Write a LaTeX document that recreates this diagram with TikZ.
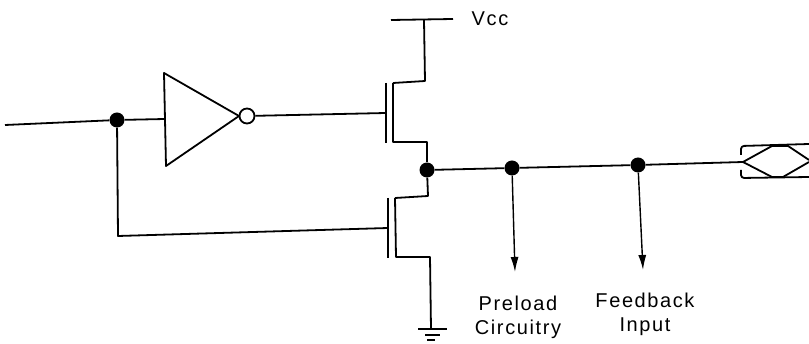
\documentclass[tikz,border=0pt]{standalone}
\usepackage{fontspec}
\setsansfont[LetterSpace=8]{Liberation Sans}
\usetikzlibrary{arrows.meta}
\tikzset{
  wire/.style={draw,line width=1.8pt,line join=round},
  dot/.style={circle,fill=black,inner sep=0pt,minimum size=15pt},
  bubble/.style={circle,draw,line width=1.8pt,inner sep=0pt,minimum size=15pt},
  lbl/.style={font=\sffamily\fontsize{20}{24}\selectfont,inner sep=0pt,align=center},
  sig/.style={wire,line width=1.4pt,-{Latex[length=15pt,width=8pt]}}
}
\begin{document}
\begin{tikzpicture}[x=1pt,y=-1pt]
\useasboundingbox (0,0) rectangle (809,344);
\coordinate (in) at (5,125);
\node[dot] (1) at (117,120) {};
\coordinate (i1) at (164,73);
\coordinate (i2) at (166,166);
\coordinate (i3) at (239,116);
\coordinate (i4) at (165,119);
\node[bubble] (b) at (247,116) {};
% upper transistor
\coordinate (g1t) at (386,83);
\coordinate (g1b) at (386,143);
\coordinate (g1) at (386,113);
\coordinate (c1) at (393,83);
\coordinate (c2) at (425,81);
\coordinate (c3) at (393,142);
\coordinate (c4) at (427,142);
\coordinate (vcc) at (424,20);
\coordinate (vl) at (391,20);
\coordinate (vr) at (453,19);
\node[lbl] (vcctxt) at (490,19) {Vcc};
\node[dot] (2) at (427,170) {};
% lower transistor
\coordinate (g2t) at (388,198);
\coordinate (g2b) at (388,258);
\coordinate (g2) at (388,228);
\coordinate (d1) at (395,198);
\coordinate (d2) at (428,196);
\coordinate (d3) at (396,257);
\coordinate (d4) at (430,257);
\coordinate (gnd) at (431,329);
\coordinate (gl1) at (418,329);
\coordinate (gr1) at (447,329);
\coordinate (gl2) at (425,335);
\coordinate (gr2) at (440,335);
\coordinate (gl3) at (427,340);
\coordinate (gr3) at (435,340);
\coordinate (fb) at (118,236);
% output
\node[dot] (3) at (512,168) {};
\node[dot] (4) at (638,165) {};
\coordinate (pa) at (515,272);
\coordinate (fa) at (643,270);
\node[lbl] (pre) at (518,317) {Preload\\Circuitry};
\node[lbl] (fbk) at (645,314) {Feedback\\Input};
% connector
\coordinate (k0) at (743,162);
\coordinate (k1) at (741,155);
\coordinate (k2) at (741,170);
\coordinate (k3) at (741,146);
\coordinate (k4) at (741,178);
\coordinate (k5) at (809,144);
\coordinate (k6) at (809,177);
\coordinate (k7) at (772,146);
\coordinate (k8) at (772,177);
\coordinate (k9) at (788,146);
\coordinate (k10) at (783,177);
\coordinate (k11) at (809,160);
\coordinate (k12) at (809,162);
\path[wire] (in) -- (1);
\path[wire] (1) -- (i4);
\path[wire] (i1) -- (i2) -- (i3) -- cycle;
\path[wire] (b) -- (g1);
\path[wire] (g1t) -- (g1b);
\path[wire] (c1) -- (c3) -- (c4) -- (2);
\path[wire] (c1) -- (c2) -- (vcc);
\path[wire] (vl) -- (vr);
\path[wire] (g2t) -- (g2b);
\path[wire] (d1) -- (d3) -- (d4) -- (gnd);
\path[wire] (d1) -- (d2) -- (2);
\path[wire] (1) -- (fb) -- (g2);
\path[wire] (gl1) -- (gr1);
\path[wire] (gl2) -- (gr2);
\path[wire] (gl3) -- (gr3);
\path[wire] (2) -- (3);
\path[wire] (3) -- (4);
\path[wire] (4) -- (k0);
\path[sig] (3) -- (pa);
\path[sig] (4) -- (fa);
\path[wire,rounded corners=3pt] (k1) -- (k3) -- (k5);
\path[wire,rounded corners=3pt] (k2) -- (k4) -- (k6);
\path[wire] (k0) -- (k7) -- (k9) -- (k11);
\path[wire] (k0) -- (k8) -- (k10) -- (k12);
\end{tikzpicture}
\end{document}
